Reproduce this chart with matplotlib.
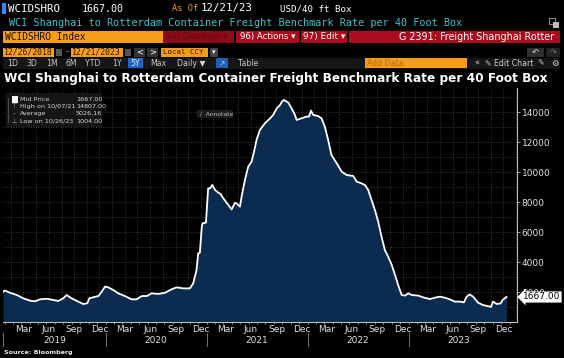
import matplotlib
matplotlib.use("Agg")
import matplotlib.pyplot as plt
import matplotlib.dates as mdates
import matplotlib.transforms as mtrans
from matplotlib.patches import Rectangle
import pandas as pd

# ---------------- data ----------------
dates = [
    "2018-12-26", "2019-01-02", "2019-01-20", "2019-02-14", "2019-03-09", "2019-04-03",
    "2019-04-21", "2019-05-09", "2019-06-02", "2019-06-26", "2019-07-14", "2019-08-01",
    "2019-08-13", "2019-08-31", "2019-09-24", "2019-10-12", "2019-10-27", "2019-11-03",
    "2019-11-18", "2019-12-06", "2019-12-18", "2019-12-30", "2020-01-11", "2020-01-29",
    "2020-02-16", "2020-03-11", "2020-04-04", "2020-04-22", "2020-05-11", "2020-05-29",
    "2020-06-16", "2020-07-10", "2020-08-03", "2020-08-27", "2020-09-14", "2020-10-08",
    "2020-11-01", "2020-11-13", "2020-11-25", "2020-12-01", "2020-12-07", "2020-12-14",
    "2020-12-17", "2020-12-29", "2021-01-06", "2021-01-13", "2021-01-21", "2021-01-31",
    "2021-02-12", "2021-02-20", "2021-03-02", "2021-03-20", "2021-04-01", "2021-04-13",
    "2021-04-19", "2021-05-01", "2021-05-07", "2021-05-19", "2021-05-31", "2021-06-12",
    "2021-06-21", "2021-06-30", "2021-07-12", "2021-07-30", "2021-08-18", "2021-08-29",
    "2021-09-11", "2021-09-23", "2021-09-30", "2021-10-07", "2021-10-23", "2021-11-04",
    "2021-11-16", "2021-11-22", "2021-12-10", "2021-12-28", "2022-01-06", "2022-01-13",
    "2022-01-21", "2022-02-08", "2022-02-20", "2022-03-04", "2022-03-16", "2022-03-28",
    "2022-04-16", "2022-05-04", "2022-05-22", "2022-06-15", "2022-06-27", "2022-07-15",
    "2022-07-27", "2022-08-08", "2022-08-20", "2022-09-01", "2022-09-13", "2022-09-25",
    "2022-10-07", "2022-10-19", "2022-11-01", "2022-11-13", "2022-11-24", "2022-12-07",
    "2022-12-19", "2022-12-31", "2023-01-12", "2023-02-05", "2023-02-23", "2023-03-19",
    "2023-04-06", "2023-04-24", "2023-05-12", "2023-05-30", "2023-06-17", "2023-07-06",
    "2023-07-20", "2023-07-30", "2023-08-10", "2023-08-22", "2023-09-09", "2023-09-27",
    "2023-10-12", "2023-10-26", "2023-11-02", "2023-11-16", "2023-11-30", "2023-12-07",
    "2023-12-21",
]
values = [
    2020, 2100, 1950, 1800, 1580, 1420,
    1380, 1510, 1550, 1470, 1400, 1580,
    1800, 1580, 1360, 1200, 1250, 1580,
    1650, 1730, 2020, 2360, 2310, 2130,
    1910, 1730, 1510, 1510, 1730, 1730,
    1910, 1870, 1950, 2180, 2310, 2240,
    2240, 2580, 3470, 4580, 4620, 6360,
    6580, 6620, 8910, 8910, 9130, 8800,
    8620, 8530, 8240, 7800, 7510, 7950,
    7900, 7690, 8360, 9470, 10360, 10690,
    11360, 12130, 12800, 13240, 13580, 13800,
    14240, 14470, 14690, 14807, 14620, 14240,
    13800, 13470, 13580, 13690, 13700, 14090,
    13800, 13730, 13580, 13020, 12130, 11130,
    10580, 10020, 9800, 9730, 9360, 9240,
    9130, 8800, 8130, 7470, 6690, 5690,
    4800, 4360, 3800, 3130, 2470, 1800,
    1760, 1910, 1800, 1760, 1640, 1530,
    1620, 1690, 1620, 1510, 1360, 1360,
    1310, 1690, 1840, 1690, 1290, 1130,
    1070, 1004, 1360, 1200, 1240, 1470,
    1667,
]
ytick_values = [2000, 4000, 6000, 8000, 10000, 12000, 14000]
month_labels = ["Mar", "Jun", "Sep", "Dec"]
years = [2019, 2020, 2021, 2022, 2023]
legend_labels = ["Mid Price", "High on 10/07/21", "Average", "Low on 10/26/23"]
legend_values = ["1667.00", "14807.00", "5026.16", "1004.00"]
last_value = 1667.00

# ---------------- figure ----------------
W, H = 564, 358
fig = plt.figure(figsize=(W / 100, H / 100), dpi=100, facecolor="black")


def fx(x):
    return x / W


def fy(y):
    return 1 - y / H


def rect(x0, y0, x1, y1, color, **kw):
    fig.patches.append(Rectangle((fx(x0), fy(y1)), (x1 - x0) / W, (y1 - y0) / H,
                                 transform=fig.transFigure, facecolor=color,
                                 edgecolor="none", **kw))


renderer = fig.canvas.get_renderer()


def txt(x, y, s, size=7, color="white", ha="left", family="DejaVu Sans", weight="normal", width=None):
    t = fig.text(fx(x), fy(y), s, fontsize=size, color=color, ha=ha, va="center",
                 family=family, fontweight=weight)
    if width is not None:
        w = t.get_window_extent(renderer).width
        t.set_fontsize(size * width / w)
    return t


MONO = "DejaVu Sans Mono"
ORANGE = "#f59c1a"
RED = "#a90d1d"

# Row 1
rect(2, 3, 6, 14, "#2b8bff")
txt(8, 8.5, "WCIDSHRO", 8.2, family=MONO, width=52)
txt(82, 8.5, "1667.00", 8.2, family=MONO, width=42)
txt(172, 8.5, "As Of", 8.2, color=ORANGE, family=MONO, width=26)
txt(201, 8.5, "12/21/23", 8.2, family=MONO, width=52)
txt(280, 8.5, "USD/40 ft Box", 8.2, family=MONO, width=72)

# Row 2
txt(9, 23, "WCI Shanghai to Rotterdam Container Freight Benchmark Rate per 40 Foot Box",
    7.2, color="#43c2cb", family=MONO, width=449)
rect(549, 18, 556, 25, "#888888")
rect(550, 19, 555, 24, "black")
rect(553, 22, 559, 28, "#bbbbbb")

# Row 3
rect(3, 31, 163, 43, ORANGE)
txt(5, 37, "WCIDSHRO Index", 7, color="#1a0d00", family=MONO, width=82)
rect(163, 31, 560, 43, RED)
rect(163, 31, 234, 43, "#8e0c18")
txt(166, 37, "94) Discover \u25be", 6.2, color="#5e0a12")
rect(234, 31, 236, 43, "black")
txt(240, 37, "96) Actions \u25be", 6.2, color="white", width=56)
rect(299, 31, 301, 43, "black")
txt(303, 37, "97) Edit \u25be", 6.2, color="white", width=42)
rect(347, 31, 349, 43, "black")
txt(399, 37, "G 2391: Freight Shanghai Rotter", 6.5, color="white", width=155)

# Row 4
rect(3, 47.5, 54, 56.5, ORANGE)
txt(4, 52, "12/26/2018", 6, color="#2a1500", family=MONO, width=49)
rect(56, 48.5, 62, 55.5, "#555555")
txt(66, 52, "-", 6, color=ORANGE)
rect(71, 47.5, 123, 56.5, ORANGE)
txt(72, 52, "12/21/2023", 6, color="#2a1500", family=MONO, width=49)
rect(125, 48.5, 131, 55.5, "#555555")
rect(134, 47.5, 145, 56.5, "#333333")
txt(139.5, 52, "<", 6, ha="center")
rect(147, 47.5, 158, 56.5, "#333333")
txt(152.5, 52, ">", 6, ha="center")
rect(161, 47.5, 208, 56.5, ORANGE)
txt(163, 52, "Local CCY", 6, color="#2a1500", family=MONO, width=40)
rect(210, 47.5, 218, 56.5, "#444444")
txt(214, 52, "\u25be", 5, ha="center")
rect(527, 47.5, 544, 56.5, "#2e2e2e")
txt(535.5, 52, "\u21b6", 6, ha="center", color="#dddddd")
rect(546, 47.5, 560, 56.5, "#222222")
txt(553, 52, "\u21b7", 6, ha="center", color="#777777")

# Row 5
rect(3, 58, 560, 68.5, "#161616")
for lbl, cx in [("1D", 13), ("3D", 32), ("1M", 52), ("6M", 71), ("YTD", 93), ("1Y", 117)]:
    txt(cx, 63.3, lbl, 5.6, ha="center", color="#c8c8c8")
rect(128, 58.5, 143, 68, "#1f64c8")
txt(135.5, 63.3, "5Y", 5.6, ha="center", color="#e8e8e8")
txt(158, 63.3, "Max", 5.6, ha="center", color="#c8c8c8")
txt(177, 63.3, "Daily \u25bc", 5.6, color="#d0d0d0")
rect(216, 58.5, 228, 68, "#1f5fb8")
txt(222, 63.3, "\u2197", 5.5, ha="center", color="#bcd4ff")
txt(238, 63.3, "Table", 5.6, color="#c8c8c8")
rect(365, 58.5, 467, 68, ORANGE)
txt(367, 63.3, "Add Data", 5.6, color="#b56a00")
txt(477, 63.3, "\u00ab", 6, ha="center", color="#d0d0d0")
txt(485, 63.3, "\u270e Edit Chart", 5.6, color="#d0d0d0")
txt(540, 63.3, "\u270e", 5.6, ha="center", color="#d0d0d0")
txt(555, 63.3, "\u2699", 6, ha="center", color="#d0d0d0")

# Row 6: bold title
txt(4, 78.5, "WCI Shanghai to Rotterdam Container Freight Benchmark Rate per 40 Foot Box",
    8.5, weight="bold", width=544)

# ---------------- chart ----------------
ax_left, ax_right, ax_top, ax_bottom = 3, 517, 88, 322
ax = fig.add_axes([fx(ax_left), fy(ax_bottom), (ax_right - ax_left) / W, (ax_bottom - ax_top) / H])
ax.set_facecolor("black")

d = pd.to_datetime(dates)
ax.fill_between(d, values, 0, color="#0c2b50", lw=0, zorder=2)
ax.plot(d, values, color="white", lw=1.3, zorder=3)

ax.set_xlim(pd.Timestamp("2018-12-26"), pd.Timestamp("2024-01-28"))
ax.set_ylim(0, 15600)

# grid
for yv in range(1000, 16000, 1000):
    ax.axhline(yv, color="#4a4a4a", lw=0.6, ls=(0, (1, 2)), zorder=1)
label_pos = [pd.Timestamp(f"{y}-{m:02d}-10") for y in range(2018, 2024) for m in (3, 6, 9, 12)]
label_pos = [p for p in label_pos if pd.Timestamp("2018-12-26") < p < pd.Timestamp("2024-01-28")]
grid_pos = []
for p in label_pos:
    grid_pos.append(p)
    grid_pos.append(p + pd.Timedelta(days=46))
grid_pos.insert(0, label_pos[0] - pd.Timedelta(days=46))
for g in grid_pos:
    if pd.Timestamp("2018-12-26") < g < pd.Timestamp("2024-01-28"):
        ax.axvline(g, color="#4a4a4a", lw=0.6, ls=(0, (1, 2)), zorder=1)

# axes styling
for s in ["top", "left"]:
    ax.spines[s].set_visible(False)
ax.spines["right"].set_color("#bbbbbb")
ax.spines["bottom"].set_color("#bbbbbb")
ax.spines["right"].set_linewidth(0.8)
ax.spines["bottom"].set_linewidth(0.8)

ax.yaxis.tick_right()
ax.set_yticks(ytick_values)
ax.set_yticklabels([str(v) for v in ytick_values])
ax.tick_params(axis="y", colors="#bbbbbb", labelcolor="#e0e0e0", labelsize=6.5, length=2.5,
               width=0.6, pad=1)

ax.set_xticks(label_pos)
ax.set_xticklabels([p.strftime("%b") for p in label_pos])
ax.tick_params(axis="x", length=0, labelcolor="#e0e0e0", labelsize=6.5, pad=2)
ax.xaxis.set_minor_locator(mdates.MonthLocator())
ax.tick_params(axis="x", which="minor", length=1.5, color="#bbbbbb", width=0.5)

# years and separators
for yr in years:
    xd = mdates.date2num(pd.Timestamp(f"{yr}-07-01"))
    x_pix = ax.transData.transform((xd, 0))[0]
    txt(x_pix, 340.5, str(yr), 6.5, ha="center", color="#e0e0e0")
for yr in years:
    xd = mdates.date2num(pd.Timestamp(f"{yr}-01-01"))
    x_pix = ax.transData.transform((xd, 0))[0]
    if yr == 2019:
        x_pix = 3
    fig.add_artist(plt.Line2D([fx(x_pix), fx(x_pix)], [fy(333), fy(346)],
                              transform=fig.transFigure, color="#888888", lw=0.6))

# last value tag
trans = mtrans.blended_transform_factory(ax.transAxes, ax.transData)
ax.text(1.012, last_value, "%.2f" % last_value, transform=trans, fontsize=6.5, color="black",
        va="center", ha="left", zorder=6, clip_on=False,
        bbox=dict(boxstyle="larrow,pad=0.12", fc="white", ec="none"))

# legend box
rect(6, 93, 102, 127, "#161616", zorder=5)
fig.add_artist(plt.Line2D([fx(8), fx(8)], [fy(98), fy(122)], transform=fig.transFigure,
                          color="#666666", lw=0.5, zorder=6))
rect(12, 96.5, 18, 102.5, "white", zorder=6)
icons = ["", "\u22a4", "\u2013", "\u22a5"]
for i, (lab, val) in enumerate(zip(legend_labels, legend_values)):
    yy = 99.5 + i * 7.2
    t1 = txt(20, yy, lab, 4.6, color="#d8d8d8")
    t2 = txt(76, yy, val, 4.6, color="#d8d8d8")
    t1.set_zorder(7)
    t2.set_zorder(7)
    if icons[i]:
        t3 = txt(14.5, yy, icons[i], 4.5, ha="center", color="#aaaaaa")
        t3.set_zorder(7)

# annotate chip
rect(197, 109.5, 233, 117.5, "#1c1c1c", zorder=5)
t = txt(200, 113.5, "\u2215  Annotate", 4.3, color="#bbbbbb")
t.set_zorder(7)

# source
txt(4, 352.5, "Source: Bloomberg", 4.8, weight="bold", color="#e8e8e8", width=68)

fig.savefig("out.png", dpi=100, facecolor="black")
